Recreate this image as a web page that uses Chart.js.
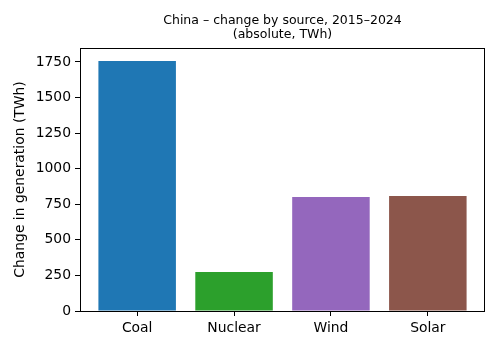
<!DOCTYPE html>
<html>
<head>
<meta charset="utf-8">
<script src="https://cdn.jsdelivr.net/npm/chart.js@4/dist/chart.umd.min.js"></script>
<style>
  html, body { margin: 0; padding: 0; background: #fff; }
  #wrap { width: 500px; height: 350px; }
</style>
</head>
<body>
<div id="wrap"><canvas id="chart" width="500" height="350"></canvas></div>
<script>
"use strict";

const SOURCES = ["Coal", "Nuclear", "Wind", "Solar"];
const CHANGE_TWH = [1757, 274, 801, 808];
const COLORS = ["#1f77b4", "#2ca02c", "#9467bd", "#8c564b"];
const Y_TICKS = [0, 250, 500, 750, 1000, 1250, 1500, 1750];
const TITLE_LINES = ["China \u2013 change by source, 2015\u20132024", "(absolute, TWh)"];

const FONT = "'DejaVu Sans', sans-serif";

// Axes frame on all four sides plus the two-line title above it.
const framePlugin = {
  id: "frame",
  afterDraw(chart) {
    const { ctx, chartArea: a } = chart;
    ctx.save();
    ctx.strokeStyle = "#000";
    ctx.lineWidth = 1;
    ctx.strokeRect(Math.round(a.left) + 0.5, Math.round(a.top) + 0.5,
      Math.round(a.right - a.left) - 1, Math.round(a.bottom - a.top));
    ctx.fillStyle = "#000";
    ctx.font = `12.5px ${FONT}`;
    ctx.textAlign = "center";
    ctx.textBaseline = "middle";
    const cx = (a.left + a.right) / 2;
    ctx.fillText(TITLE_LINES[0], cx, 20.5);
    ctx.fillText(TITLE_LINES[1], cx, 34.5);
    ctx.restore();
  },
};

new Chart(document.getElementById("chart"), {
  type: "bar",
  data: {
    datasets: [{
      data: CHANGE_TWH.map((v, i) => ({ x: i, y: v })),
      backgroundColor: COLORS,
      borderWidth: 0,
      inflateAmount: 0,
      barPercentage: 0.8,
      categoryPercentage: 1.0,
    }],
  },
  options: {
    responsive: false,
    animation: false,
    layout: { padding: { top: 48, right: 15, bottom: 0, left: 0 } },
    plugins: { legend: { display: false }, tooltip: { enabled: false }, title: { display: false } },
    scales: {
      x: {
        type: "linear",
        offset: false,
        min: -0.59,
        max: 3.59,
        afterBuildTicks: (s) => { s.ticks = SOURCES.map((_, i) => ({ value: i })); },
        afterFit: (s) => { s.height = 39; },
        grid: { offset: false, drawOnChartArea: false, drawTicks: true, tickLength: 5, color: "#000" },
        border: { display: false },
        ticks: {
          color: "#000",
          padding: 4,
          font: { family: FONT, size: 13.9 },
          maxRotation: 0,
          autoSkip: false,
          callback: (v) => SOURCES[v] ?? "",
        },
      },
      y: {
        min: 0,
        max: 1848,
        afterBuildTicks: (s) => { s.ticks = Y_TICKS.map((v) => ({ value: v })); },
        afterFit: (s) => { s.width = 80; },
        grid: { drawOnChartArea: false, drawTicks: true, tickLength: 5, color: "#000" },
        border: { display: false },
        ticks: {
          color: "#000",
          padding: 4,
          font: { family: FONT, size: 13.9 },
          callback: (v) => String(v),
        },
        title: {
          display: true,
          text: "Change in generation (TWh)",
          color: "#000",
          font: { family: FONT, size: 13.9 },
          padding: { top: 12 },
        },
      },
    },
  },
  plugins: [framePlugin],
});
</script>
</body>
</html>
